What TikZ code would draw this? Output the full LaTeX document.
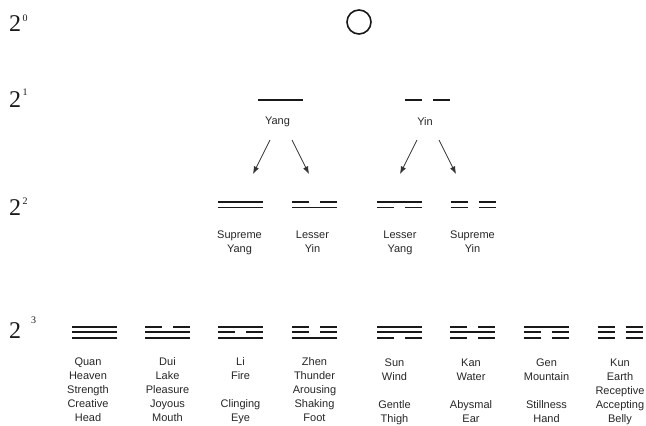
\documentclass[tikz,border=0pt]{standalone}
\usepackage{fontspec}
\setmainfont{Liberation Sans}
\newfontfamily\serifnum{Liberation Serif}
\usetikzlibrary{arrows.meta}

\newcommand{\YSolid}[2]{\draw[yao] ({#1-22.5},#2) -- ({#1+22.5},#2);}
\newcommand{\YBroken}[2]{\draw[yao] ({#1-22.5},#2) -- ({#1-5.5},#2) ({#1+5.5},#2) -- ({#1+22.5},#2);}

\tikzset{
  yao/.style={line width=1.9pt, draw=black!90, line cap=butt},
  lbl/.style={font=\fontsize{11}{14}\selectfont, align=center, inner sep=0pt, text=black!85, anchor=north},
  arr/.style={draw=black!80, line width=0.7pt, -{Latex[length=7.5pt,width=5.5pt]}},
  pw/.style={font=\serifnum\fontsize{24}{24}\selectfont, inner sep=0pt, anchor=base west, text=black!90},
  sup/.style={font=\serifnum\fontsize{10}{10}\selectfont, inner sep=0pt, anchor=base west, text=black!90},
}

\begin{document}
\begin{tikzpicture}[x=1pt,y=-1pt]
\useasboundingbox (0,0) rectangle (646,426);

% powers of two
\node[pw] (p0) at (9,31) {2};  \node[sup] (s0) at (22.5,21) {0};
\node[pw] (p1) at (9,107) {2}; \node[sup] (s1) at (22.5,95) {1};
\node[pw] (p2) at (9,215) {2}; \node[sup] (s2) at (22.5,204) {2};
\node[pw] (p3) at (9,338) {2}; \node[sup] (s3) at (31,323) {3};

% Wuji circle
\node[circle, draw=black!90, line width=1.6pt, minimum size=24pt, inner sep=0pt] (wuji) at (359,22) {};

% level 1
\YSolid{280.5}{100}
\YBroken{427.5}{100}
\node[lbl] (yang) at (277.5,117) {Yang};
\node[lbl] (yin) at (425,117) {Yin};

\coordinate (yangL0) at (270,140); \coordinate (yangL1) at (253,174);
\coordinate (yangR0) at (292,140); \coordinate (yangR1) at (309,174);
\coordinate (yinL0) at (417,140);  \coordinate (yinL1) at (400,174);
\coordinate (yinR0) at (439,140);  \coordinate (yinR1) at (456,174);
\draw[arr] (yangL0) -- (yangL1);
\draw[arr] (yangR0) -- (yangR1);
\draw[arr] (yinL0) -- (yinL1);
\draw[arr] (yinR0) -- (yinR1);

% level 2 digrams
\YSolid{240.5}{202}  \YSolid{240.5}{207.5}
\YBroken{314.5}{202} \YSolid{314.5}{207.5}
\YSolid{399.5}{202}  \YBroken{399.5}{207.5}
\YBroken{473}{202}   \YBroken{473}{207.5}

\node[lbl] (sy) at (239.5,231) {Supreme\\Yang};
\node[lbl] (ly) at (312.5,231) {Lesser\\Yin};
\node[lbl] (lya) at (400,231) {Lesser\\Yang};
\node[lbl] (syi) at (472.5,231) {Supreme\\Yin};

% level 3 trigrams
\YSolid{94.5}{326.7}  \YSolid{94.5}{332.4}  \YSolid{94.5}{338.1}
\YBroken{167.5}{326.7} \YSolid{167.5}{332.4} \YSolid{167.5}{338.1}
\YSolid{240.5}{326.7} \YBroken{240.5}{332.4} \YSolid{240.5}{338.1}
\YBroken{314.5}{326.7} \YBroken{314.5}{332.4} \YSolid{314.5}{338.1}
\YSolid{399.5}{326.7} \YSolid{399.5}{332.4} \YBroken{399.5}{338.1}
\YBroken{472.5}{326.7} \YSolid{472.5}{332.4} \YBroken{472.5}{338.1}
\YSolid{546}{326.7} \YBroken{546}{332.4} \YBroken{546}{338.1}
\YBroken{620}{326.7} \YBroken{620}{332.4} \YBroken{620}{338.1}

\node[lbl] (quan) at (88,358) {Quan\\Heaven\\Strength\\Creative\\Head};
\node[lbl] (dui) at (167.5,357) {Dui\\Lake\\Pleasure\\Joyous\\Mouth};
\node[lbl] (li) at (240.5,357) {Li\\Fire\\[14pt]Clinging\\Eye};
\node[lbl] (zhen) at (314.5,357) {Zhen\\Thunder\\Arousing\\Shaking\\Foot};
\node[lbl] (sun) at (394.5,359) {Sun\\Wind\\[14pt]Gentle\\Thigh};
\node[lbl] (kan) at (471,359) {Kan\\Water\\[14pt]Abysmal\\Ear};
\node[lbl] (gen) at (546.5,359) {Gen\\Mountain\\[14pt]Stillness\\Hand};
\node[lbl] (kun) at (620,359) {Kun\\Earth\\Receptive\\Accepting\\Belly};
\end{tikzpicture}
\end{document}
